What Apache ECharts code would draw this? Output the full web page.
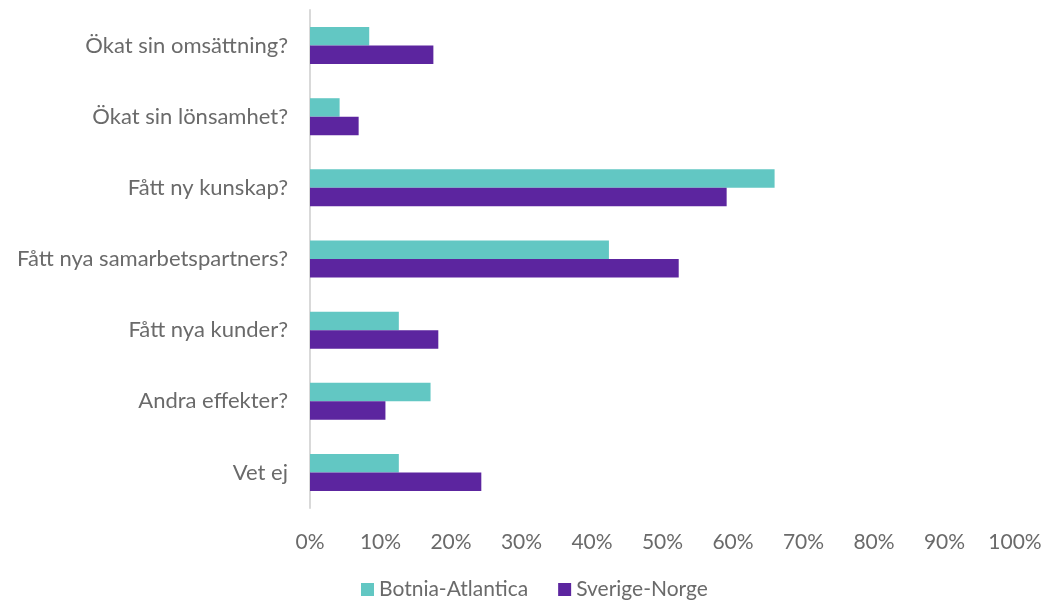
<!DOCTYPE html>
<html>
<head>
<meta charset="utf-8">
<script src="https://cdn.jsdelivr.net/npm/echarts@6/dist/echarts.min.js"></script>
<style>
  html, body { margin: 0; padding: 0; background: #ffffff; }
  #chart { width: 1045px; height: 605px; }
</style>
</head>
<body>
<div id="chart"></div>
<script>
// Survey answers: effects reported per programme (percent of respondents)
const categories = [
  'Ökat sin omsättning?',
  'Ökat sin lönsamhet?',
  'Fått ny kunskap?',
  'Fått nya samarbetspartners?',
  'Fått nya kunder?',
  'Andra effekter?',
  'Vet ej'
];
const botniaAtlantica = [8.4, 4.2, 65.9, 42.4, 12.6, 17.1, 12.6];
const sverigeNorge    = [17.5, 6.9, 59.1, 52.3, 18.2, 10.7, 24.3];
const seriesNames = ['Botnia-Atlantica', 'Sverige-Norge'];

const FONT = 'Lato, "Open Sans", sans-serif';
const TEXT_COLOR = '#6a6a6a';

const chart = echarts.init(document.getElementById('chart'), null, { renderer: 'canvas' });

chart.setOption({
  animation: false,
  backgroundColor: '#ffffff',
  textStyle: { fontFamily: FONT },
  grid: { left: 310, right: 30, top: 10, bottom: 97, containLabel: false },
  legend: {
    data: seriesNames,
    bottom: 0,
    left: 356,
    icon: 'rect',
    itemWidth: 13,
    itemHeight: 13,
    itemGap: 30,
    textStyle: { fontFamily: FONT, fontSize: 21, color: TEXT_COLOR }
  },
  xAxis: {
    type: 'value',
    min: 0,
    max: 100,
    interval: 10,
    axisLine: { show: false },
    axisTick: { show: false },
    splitLine: { show: false },
    axisLabel: {
      formatter: '{value}%',
      fontFamily: FONT,
      fontSize: 21,
      color: TEXT_COLOR,
      margin: 24
    }
  },
  yAxis: {
    type: 'category',
    data: categories,
    inverse: true,
    axisLine: { show: true, lineStyle: { color: '#d9d9d9', width: 2 } },
    axisTick: { show: false },
    axisLabel: {
      fontFamily: FONT,
      fontSize: 22,
      color: TEXT_COLOR,
      margin: 22
    }
  },
  series: [
    {
      name: seriesNames[0],
      type: 'bar',
      data: botniaAtlantica,
      itemStyle: { color: '#62c7c3' },
      barGap: '0%',
      barCategoryGap: '48%'
    },
    {
      name: seriesNames[1],
      type: 'bar',
      data: sverigeNorge,
      itemStyle: { color: '#5c259f' },
      barGap: '0%',
      barCategoryGap: '48%'
    }
  ]
});
</script>
</body>
</html>
